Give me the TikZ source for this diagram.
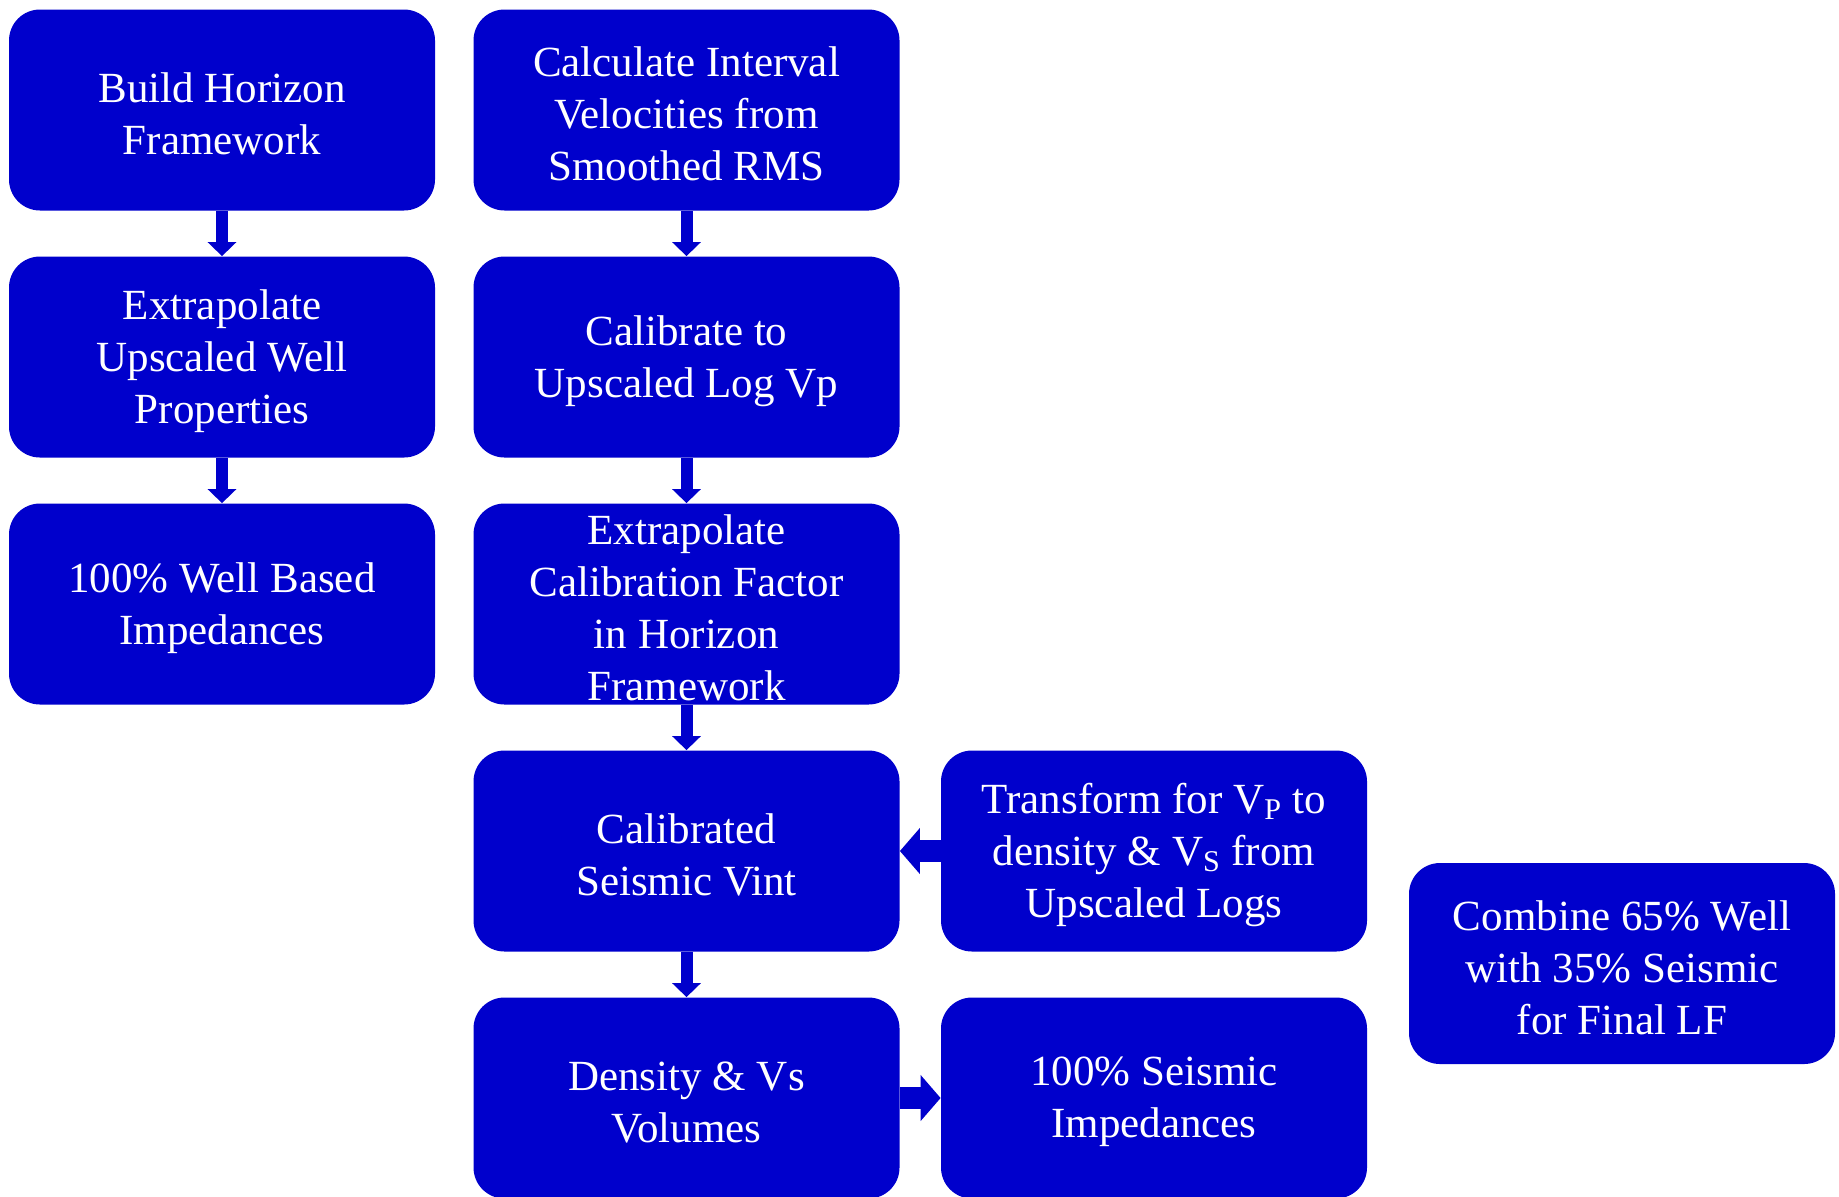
\documentclass[tikz,border=0pt]{standalone}
\usepackage{fontspec}
\setmainfont{Liberation Serif}
\usetikzlibrary{arrows.meta}
\definecolor{boxblue}{RGB}{0,0,204}
\tikzset{
  box/.style={fill=boxblue, draw=none, rounded corners=15.5pt, minimum width=213pt, minimum height=100.5pt,
    inner sep=0pt},
  txt/.style={inner sep=0pt, align=center, text=white, font=\fontsize{21.5}{26}\selectfont, yshift=-2pt},
  varrow/.style={draw=boxblue, line width=6pt, -{Triangle[width=14pt,length=7pt]}},
  harrow/.style={draw=boxblue, line width=11pt, -{Triangle[width=22.5pt,length=10pt]}}
}
\begin{document}
\begin{tikzpicture}[x=0.5pt,y=-0.5pt]
\useasboundingbox (0,0) rectangle (1839,1196);
% column 1
\node[box] (b1) at (222,110) {};
\node[box] (b2) at (222,357) {};
\node[box] (b3) at (222,604) {};
% column 2
\node[box] (c1) at (686.5,110) {};
\node[box] (c2) at (686.5,357) {};
\node[box] (c3) at (686.5,604) {};
\node[box] (c4) at (686.5,851) {};
\node[box] (c5) at (686.5,1098) {};
% column 3
\node[box] (d4) at (1154,851) {};
\node[box] (d5) at (1154,1098) {};
% column 4
\node[box] (e1) at (1622,963.5) {};
% texts
\node[txt] (tb1) at (b1.center) {Build Horizon\\Framework};
\node[txt] (tb2) at (b2.center) {Extrapolate\\Upscaled Well\\Properties};
\node[txt] (tb3) at (b3.center) {100\%\ Well Based\\Impedances};
\node[txt] (tc1) at (c1.center) {Calculate Interval\\Velocities from\\Smoothed RMS};
\node[txt] (tc2) at (c2.center) {Calibrate to\\Upscaled Log Vp};
\node[txt] (tc3) at (c3.center) {Extrapolate\\Calibration Factor\\in Horizon\\Framework};
\node[txt] (tc4) at (c4.center) {Calibrated\\Seismic Vint};
\node[txt] (tc5) at (c5.center) {Density \& Vs\\Volumes};
\node[txt] (td4) at (d4.center) {Transform for V\textsubscript{P} to\\density \& V\textsubscript{S} from\\Upscaled Logs};
\node[txt] (td5) at (d5.center) {100\%\ Seismic\\Impedances};
\node[txt] (te1) at (e1.center) {Combine 65\%\ Well\\with 35\%\ Seismic\\for Final LF};
% arrows
\draw[varrow] (b1.south) -- (b2.north);
\draw[varrow] (b2.south) -- (b3.north);
\draw[varrow] (c1.south) -- (c2.north);
\draw[varrow] (c2.south) -- (c3.north);
\draw[varrow] (c3.south) -- (c4.north);
\draw[varrow] (c4.south) -- (c5.north);
\draw[harrow] (d4.west) -- (c4.east);
\draw[harrow] (c5.east) -- (d5.west);
\end{tikzpicture}
\end{document}
